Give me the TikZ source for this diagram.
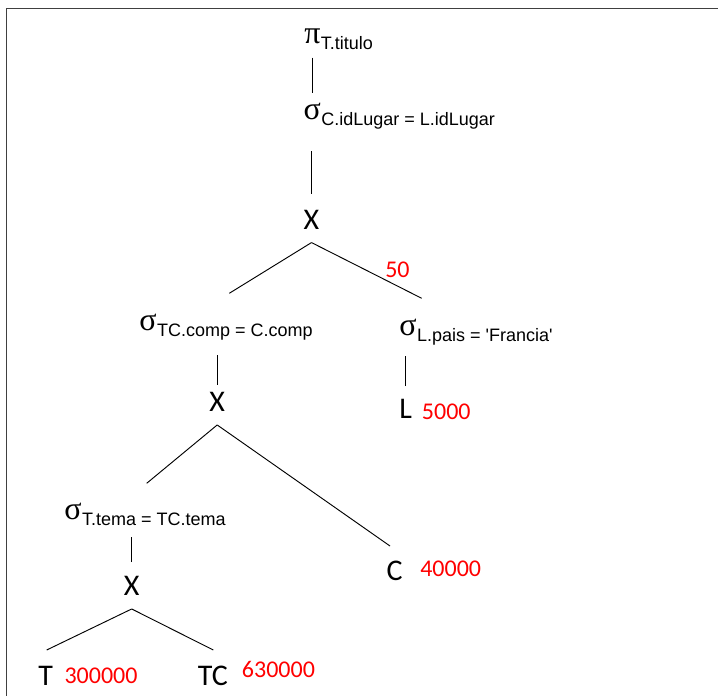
\documentclass[tikz,border=0pt]{standalone}
\usepackage{fontspec}
\usetikzlibrary{positioning}

\newfontfamily\greekfont{Liberation Serif}
\newfontfamily\condfont{Liberation Sans}
\newfontfamily\relfont{Carlito}

\begin{document}
\begin{tikzpicture}[
    x=0.75pt, y=-0.75pt,
    every node/.style={inner sep=0pt},
    opsym/.style={font=\greekfont\fontsize{24pt}{24pt}\selectfont, anchor=base west},
    cond/.style={font=\condfont\fontsize{13.5pt}{13.5pt}\selectfont, anchor=base west, yshift=-5pt},
    prodop/.style={font=\relfont\fontsize{22.5pt}{22.5pt}\selectfont, inner ysep=9.75pt, anchor=base},
    rel/.style={font=\relfont\fontsize{22.5pt}{22.5pt}\selectfont, anchor=base},
    card/.style={font=\relfont\fontsize{18pt}{18pt}\selectfont, text=red, anchor=base west},
    edge/.style={line width=0.7pt},
]
\useasboundingbox (0,0) rectangle (718,696);

% --- Frame ---
\draw[black!75, line width=1pt] (6.3,696) -- (6.3,8.3) -- (718,8.3);

% --- Projection and top selection ---
\node[opsym] (pg) at (304,43.3) {π};
\node[cond, yshift=0.5pt] (psub) at (pg.base east) {T.titulo};
\node[opsym] (sg1) at (303.3,119.3) {σ};
\node[cond] (ssub1) at (sg1.base east) {C.idLugar = L.idLugar};

% --- First product ---
\node[prodop] (x1) at (311.5,229.3) {X};
\node[card] (c50) at (385,277.3) {50};

% --- Selections below it ---
\node[opsym] (sg2) at (139,330) {σ};
\node[cond] (ssub2) at (sg2.base east) {TC.comp = C.comp};
\node[opsym] (sg3) at (399,335) {σ};
\node[cond] (ssub3) at (sg3.base east) {L.pais = 'Francia'};

% --- Relation L ---
\node[rel] (rl) at (405.8,418.7) {L};
\node[card] (c5000) at (421.7,419.3) {5000};

% --- Second product ---
\node[prodop] (x2) at (217.2,411.7) {X};
\node[opsym] (sg4) at (64,519.3) {σ};
\node[cond] (ssub4) at (sg4.base east) {T.tema = TC.tema};
\node[rel] (rc) at (394.7,580.7) {C};
\node[card] (c40000) at (420,576) {40000};

% --- Third product and leaves ---
\node[prodop] (x3) at (131.7,595.7) {X};
\node[rel] (rt) at (45.8,685) {T};
\node[card] (c300000) at (64.3,683.3) {300000};
\node[rel] (rtc) at (212.9,685) {TC};
\node[card] (c630000) at (241.7,677.7) {630000};

% --- Branch ends ---
\coordinate (x1l) at (229.3,293.3);
\coordinate (x1r) at (421.7,298.3);
\coordinate (x2l) at (146.7,483.3);
\coordinate (x2r) at (390,546);
\coordinate (x3l) at (46.7,650);
\coordinate (x3r) at (213.3,650);

% --- Vertical links ---
\draw[edge, shorten <=10.3pt, shorten >=7pt] (pg.south) -- (pg.south |- sg1.north);
\draw[edge, shorten <=2.25pt, shorten >=23pt] (x1.north) -- (x1.north |- sg1.south);
\draw[edge, shorten <=9.75pt, shorten >=15pt] (rl.north) -- (rl.north |- sg3.south);
\draw[edge, shorten <=-4pt, shorten >=18.5pt] (x2.north) -- (x2.north |- sg2.south);
\draw[edge, shorten <=0.75pt, shorten >=13pt] (x3.north) -- (x3.north |- sg4.south);

% --- Branches ---
\draw[edge] (x1.south) -- (x1l);
\draw[edge] (x1.south) -- (x1r);
\draw[edge] (x2.south) -- (x2l);
\draw[edge] (x2.south) -- (x2r);
\draw[edge] (x3.south) -- (x3l);
\draw[edge] (x3.south) -- (x3r);

\end{tikzpicture}
\end{document}
